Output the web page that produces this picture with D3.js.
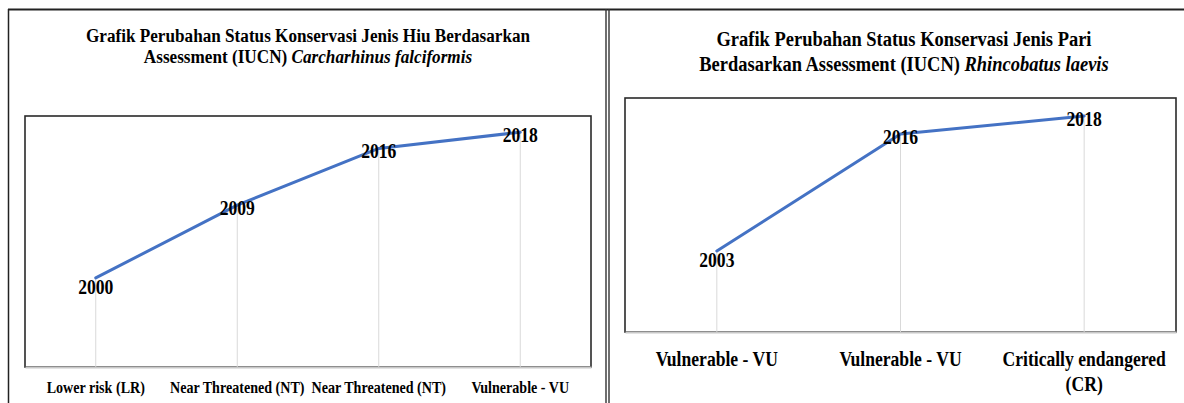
<!DOCTYPE html>
<html>
<head>
<meta charset="utf-8">
<script src="https://cdn.jsdelivr.net/npm/d3@7"></script>
<style>
	body { margin: 0; background: #fff; }
	svg text { font-family: "Liberation Serif", "Times New Roman", serif; font-weight: bold; fill: #000; white-space: pre; }
</style>
</head>
<body>
<svg id="chart" width="1184" height="403"></svg>
<script>
// shark (hiu) panel
var hiuTitle = [["Grafik Perubahan Status Konservasi Jenis Hiu Berdasarkan"], ["Assessment (IUCN) ", "Carcharhinus falciformis"]];
var hiuStatus = ["Lower risk (LR)", "Near Threatened (NT)", "Near Threatened (NT)", "Vulnerable - VU"];
var hiuYears = [2000, 2009, 2016, 2018];
var hiuYearRange = [1989, 2020];

// ray (pari) panel
var pariTitle = [["Grafik Perubahan Status Konservasi Jenis Pari"], ["Berdasarkan Assessment (IUCN) ", "Rhincobatus laevis"]];
var pariStatus = ["Vulnerable - VU", "Vulnerable - VU", "Critically endangered (CR)"];
var pariYears = [2003, 2016, 2018];
var pariYearRange = [1994, 2020];

window.onload = init;

function init() {
	window.options = {};
	options.sx = 0.88; // the source picture is squeezed sideways
	options.svg = d3.select("#chart");

	drawFrame();

	drawChart({
		title: hiuTitle, status: hiuStatus, years: hiuYears, domain: hiuYearRange,
		box: { left: 25, right: 591, top: 116, bottom: 367 },
		titleX: 308, titleY: [42, 63], titleSize: 19.5,
		labelSize: 16, labelY: 26, lineH: 20
	});
	drawChart({
		title: pariTitle, status: pariStatus, years: pariYears, domain: pariYearRange,
		box: { left: 625, right: 1176, top: 98, bottom: 332 },
		titleX: 904, titleY: [46, 71], titleSize: 21,
		labelSize: 20, labelY: 34, lineH: 25
	});
}

function drawFrame() {
	var svg = options.svg;
	svg.append("line").attr("x1", 8).attr("x2", 1184).attr("y1", 9.5).attr("y2", 9.5)
		.attr("stroke", "#222").attr("stroke-width", 2);
	svg.append("line").attr("x1", 8.5).attr("x2", 8.5).attr("y1", 9).attr("y2", 403)
		.attr("stroke", "#222").attr("stroke-width", 1.5);
	[606, 609].forEach(function(xx) {
		svg.append("line").attr("x1", xx).attr("x2", xx).attr("y1", 9).attr("y2", 403)
			.attr("stroke", "#333").attr("stroke-width", 1.4);
	});
}

function drawChart(c) {
	var sx = options.sx;
	var g = options.svg.append("g");
	var x = d3.scaleBand().domain(d3.range(c.status.length)).range([c.box.left, c.box.right]);
	var y = d3.scaleLinear().domain(c.domain).range([c.box.bottom, c.box.top]);
	var cx = function(i) { return x(i) + x.bandwidth() / 2; };

	// title
	c.title.forEach(function(line, i) {
		var t = g.append("text")
			.attr("transform", "translate(" + c.titleX + "," + c.titleY[i] + ") scale(" + sx + ",1)")
			.attr("text-anchor", "middle")
			.style("font-size", c.titleSize + "px");
		t.append("tspan").text(line[0]);
		if (line[1]) t.append("tspan").style("font-style", "italic").text(line[1]);
	});

	// plot box
	g.append("rect")
		.attr("x", c.box.left).attr("y", c.box.top)
		.attr("width", c.box.right - c.box.left).attr("height", c.box.bottom - c.box.top)
		.attr("fill", "none").attr("stroke", "#2a2a2a").attr("stroke-width", 1.6);

	// drop lines
	g.selectAll("line.drop").data(c.years).enter().append("line")
		.attr("class", "drop")
		.attr("x1", function(d, i) { return cx(i); })
		.attr("x2", function(d, i) { return cx(i); })
		.attr("y1", function(d) { return y(d); })
		.attr("y2", c.box.bottom)
		.attr("stroke", "#d9d9d9").attr("stroke-width", 1);

	// x axis (category line)
	var axis = g.append("g").attr("transform", "translate(0," + c.box.bottom + ")")
		.call(d3.axisBottom(x).tickSize(0).tickFormat(function(i) { return c.status[i]; }));
	axis.select(".domain").attr("stroke", "#c8c8c8").attr("stroke-width", 2);
	axis.selectAll("text")
		.attr("y", c.labelY).attr("dy", 0)
		.attr("transform", "scale(" + sx + ",1)")
		.style("font-size", c.labelSize + "px")
		.each(function() { wrap(d3.select(this), x.bandwidth() / sx, c.lineH); });

	// series line
	var line = d3.line()
		.x(function(d, i) { return cx(i); })
		.y(function(d) { return y(d); });
	g.append("path").datum(c.years)
		.attr("d", line)
		.attr("fill", "none").attr("stroke", "#4472c4").attr("stroke-width", 3)
		.attr("stroke-linecap", "round").attr("stroke-linejoin", "round");

	// data labels (year of assessment)
	g.selectAll("text.lbl").data(c.years).enter().append("text")
		.attr("class", "lbl")
		.attr("text-anchor", "middle")
		.attr("transform", function(d, i) {
			return "translate(" + cx(i) + "," + (y(d) + (i === 0 ? 16 : 10)) + ") scale(" + sx + ",1)";
		})
		.style("font-size", "20px")
		.text(function(d) { return d; });
}

function wrap(text, width, lineH) {
	var words = text.text().split(/\s+/).reverse(),
		word, line = [], n = 0,
		yy = text.attr("y"),
		tspan = text.text(null).append("tspan").attr("x", 0).attr("y", yy);
	while ((word = words.pop())) {
		line.push(word);
		tspan.text(line.join(" "));
		if (tspan.node().getComputedTextLength() > width && line.length > 1) {
			line.pop();
			tspan.text(line.join(" "));
			line = [word];
			n++;
			tspan = text.append("tspan").attr("x", 0).attr("y", +yy + n * lineH).text(word);
		}
	}
}
</script>
</body>
</html>
